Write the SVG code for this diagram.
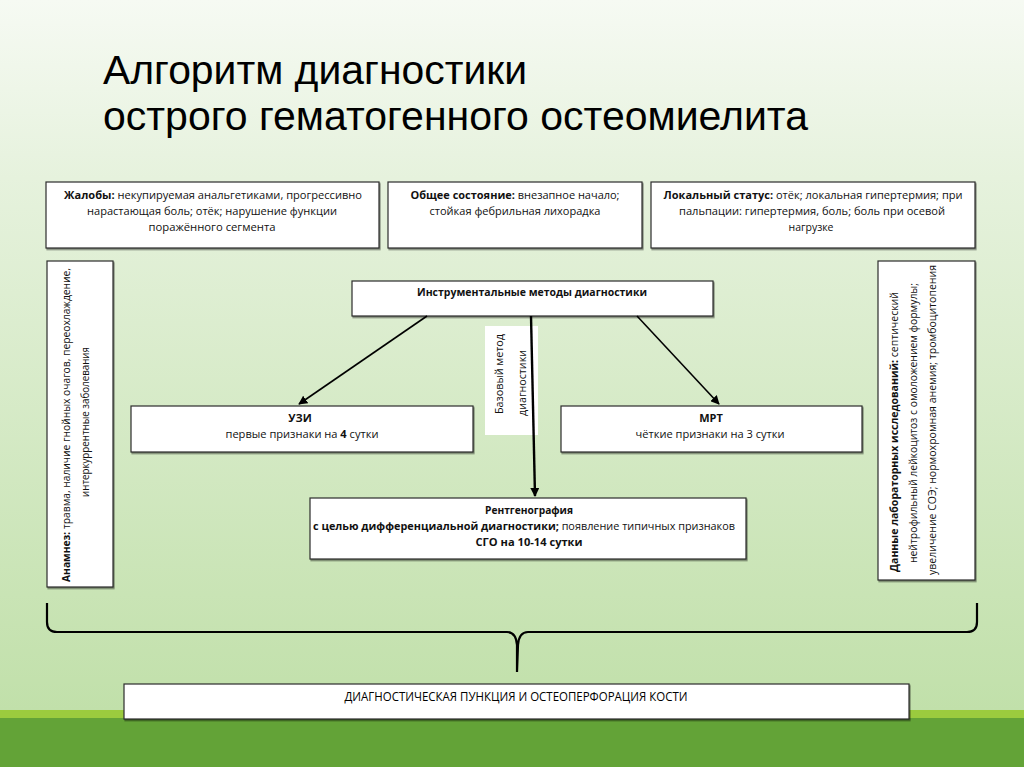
<svg xmlns="http://www.w3.org/2000/svg" width="1024" height="767" viewBox="0 0 1024 767">
<defs>
<linearGradient id="bg" x1="0" y1="0" x2="0" y2="1">
<stop offset="0" stop-color="#f6faf3"/>
<stop offset="0.25" stop-color="#e6f2dd"/>
<stop offset="1" stop-color="#c1e0aa"/>
</linearGradient>
<marker id="ah" viewBox="0 0 10 10" refX="9" refY="5" markerWidth="9" markerHeight="9" markerUnits="userSpaceOnUse" orient="auto">
<path d="M0,0 L10,5 L0,10 z" fill="#000"/>
</marker>
<filter id="sh" x="-5%" y="-5%" width="110%" height="120%">
<feDropShadow dx="1" dy="1.5" stdDeviation="0.6" flood-color="#000" flood-opacity="0.45"/>
</filter>
</defs>
<style>
.box{fill:#fff;stroke:#2b2b2b;stroke-width:1.2;filter:url(#sh)}
.t{font-family:"Open Sans","Liberation Sans",sans-serif;font-size:11px;fill:#111;text-anchor:middle}
.b{font-weight:bold}
.title{font-family:"Liberation Sans",Arial,sans-serif;font-size:41px;fill:#000}
.conn{stroke:#000;fill:none}
</style>
<rect x="0" y="0" width="1024" height="710" fill="url(#bg)"/>
<rect x="0" y="710" width="1024" height="8" fill="#9bcb3e"/>
<rect x="0" y="718" width="1024" height="49" fill="#63a337"/>

<g id="title">
<text class="title" x="103" y="84" textLength="424" lengthAdjust="spacingAndGlyphs">Алгоритм диагностики</text>
<text class="title" x="103" y="130" textLength="705" lengthAdjust="spacingAndGlyphs">острого гематогенного остеомиелита</text>
</g>

<g id="complaints">
<rect class="box" x="46" y="182" width="333" height="66"/>
<text class="t" x="213" y="199" textLength="298" lengthAdjust="spacingAndGlyphs"><tspan class="b">Жалобы:</tspan> некупируемая анальгетиками, прогрессивно</text>
<text class="t" x="212" y="215" textLength="250" lengthAdjust="spacingAndGlyphs">нарастающая боль; отёк; нарушение функции</text>
<text class="t" x="212" y="231" textLength="127" lengthAdjust="spacingAndGlyphs">поражённого сегмента</text>
</g>

<g id="general">
<rect class="box" x="388" y="182" width="254" height="66"/>
<text class="t" x="515" y="199" textLength="209" lengthAdjust="spacingAndGlyphs"><tspan class="b">Общее состояние:</tspan> внезапное начало;</text>
<text class="t" x="515" y="215" textLength="171" lengthAdjust="spacingAndGlyphs">стойкая фебрильная лихорадка</text>
</g>

<g id="local">
<rect class="box" x="651" y="182" width="324" height="66"/>
<text class="t" x="813" y="199" textLength="299" lengthAdjust="spacingAndGlyphs"><tspan class="b">Локальный статус:</tspan> отёк; локальная гипертермия; при</text>
<text class="t" x="812" y="215" textLength="266" lengthAdjust="spacingAndGlyphs">пальпации: гипертермия, боль; боль при осевой</text>
<text class="t" x="811" y="231" textLength="45" lengthAdjust="spacingAndGlyphs">нагрузке</text>
</g>

<g id="anamnesis">
<rect class="box" x="47" y="261" width="66" height="326"/>
<text class="t" transform="translate(70,425) rotate(-90)" textLength="314" lengthAdjust="spacingAndGlyphs"><tspan class="b">Анамнез:</tspan> травма, наличие гнойных очагов, переохлаждение,</text>
<text class="t" transform="translate(89,422) rotate(-90)" textLength="150" lengthAdjust="spacingAndGlyphs">интеркуррентные заболевания</text>
</g>

<g id="lab">
<rect class="box" x="878" y="261" width="97" height="319"/>
<text class="t" transform="translate(898,432) rotate(-90)" textLength="280" lengthAdjust="spacingAndGlyphs"><tspan class="b">Данные лабораторных исследований:</tspan> септический</text>
<text class="t" transform="translate(917,423) rotate(-90)" textLength="280" lengthAdjust="spacingAndGlyphs">нейтрофильный лейкоцитоз с омоложением формулы;</text>
<text class="t" transform="translate(936,420) rotate(-90)" textLength="310" lengthAdjust="spacingAndGlyphs">увеличение СОЭ; нормохромная анемия; тромбоцитопения</text>
</g>

<g id="instrumental">
<rect class="box" x="352" y="281" width="361" height="35"/>
<text class="t b" x="532" y="296" textLength="230" lengthAdjust="spacingAndGlyphs">Инструментальные методы диагностики</text>
</g>

<g id="base-label">
<rect x="485" y="326" width="53" height="109" fill="#fff"/>
<text class="t" style="text-anchor:start" transform="translate(503,414) rotate(-90)" textLength="80" lengthAdjust="spacingAndGlyphs">Базовый метод</text>
<text class="t" style="text-anchor:start" transform="translate(526,416) rotate(-90)" textLength="66" lengthAdjust="spacingAndGlyphs">диагностики</text>
</g>

<g id="connectors">
<line class="conn" x1="427" y1="316" x2="299" y2="404" stroke-width="1.6" marker-end="url(#ah)"/>
<line class="conn" x1="637" y1="316" x2="719" y2="404" stroke-width="1.6" marker-end="url(#ah)"/>
<line class="conn" x1="531" y1="316" x2="535" y2="496" stroke-width="2.4" marker-end="url(#ah)"/>
<path class="conn" stroke-width="2.2" d="M47,603 L47,622 Q47,632 57,632 L507,632 Q516,632 517,645 L517,672 M517,672 L518,645 Q519,632 528,632 L967,632 Q977,632 977,622 L977,603"/>
</g>

<g id="uzi">
<rect class="box" x="131" y="406" width="342" height="46"/>
<text class="t b" x="300" y="422">УЗИ</text>
<text class="t" x="302" y="438" textLength="153" lengthAdjust="spacingAndGlyphs">первые признаки на <tspan class="b">4</tspan> сутки</text>
</g>

<g id="mrt">
<rect class="box" x="561" y="406" width="301" height="46"/>
<text class="t b" x="711" y="422">МРТ</text>
<text class="t" x="710" y="438" textLength="149" lengthAdjust="spacingAndGlyphs">чёткие признаки на 3 сутки</text>
</g>

<g id="xray">
<rect class="box" x="310" y="498" width="436" height="61"/>
<text class="t b" x="529" y="514" textLength="88" lengthAdjust="spacingAndGlyphs">Рентгенография</text>
<text class="t" x="524" y="530" textLength="422" lengthAdjust="spacingAndGlyphs"><tspan class="b">с целью дифференциальной диагностики;</tspan> появление типичных признаков</text>
<text class="t b" x="529" y="546" textLength="107" lengthAdjust="spacingAndGlyphs">СГО на 10-14 сутки</text>
</g>

<g id="puncture">
<rect class="box" x="124" y="684" width="785" height="35"/>
<text class="t" x="516" y="701" style="font-size:13px;fill:#000" textLength="343" lengthAdjust="spacingAndGlyphs">ДИАГНОСТИЧЕСКАЯ ПУНКЦИЯ И ОСТЕОПЕРФОРАЦИЯ КОСТИ</text>
</g>
</svg>
